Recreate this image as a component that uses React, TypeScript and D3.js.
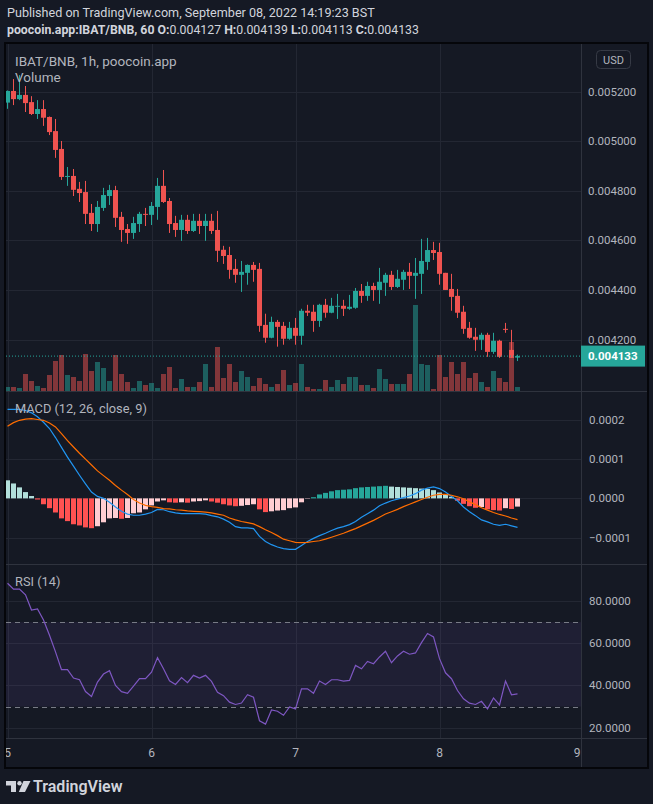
import React from 'react';
import * as d3 from 'd3';

// prices are in 1e-6 BNB (0.004133 -> 4133), one candle per hour from Sept 5 00:00
const openP = [5156, 5203, 5170, 5187, 5158, 5110, 5130, 5098, 5041, 4969, 4858, 4860, 4808, 4795, 4711, 4666, 4731, 4779, 4803, 4695, 4646, 4630, 4666, 4707, 4703, 4735, 4820, 4759, 4670, 4642, 4683, 4638, 4679, 4658, 4679, 4642, 4562, 4541, 4485, 4461, 4469, 4501, 4485, 4259, 4207, 4271, 4255, 4203, 4247, 4215, 4316, 4312, 4275, 4340, 4308, 4332, 4336, 4324, 4328, 4396, 4376, 4416, 4400, 4429, 4461, 4412, 4441, 4473, 4457, 4465, 4513, 4561, 4553, 4469, 4404, 4376, 4312, 4247, 4211, 4199, 4219, 4150, 4195, 4243, 4158, 4127];
const highP = [5205, 5251, 5267, 5223, 5182, 5166, 5166, 5100, 5090, 5001, 4896, 4888, 4836, 4840, 4747, 4759, 4812, 4824, 4820, 4715, 4666, 4695, 4715, 4731, 4755, 4852, 4884, 4771, 4699, 4703, 4703, 4707, 4707, 4707, 4707, 4719, 4578, 4574, 4525, 4517, 4503, 4513, 4509, 4304, 4292, 4279, 4271, 4271, 4287, 4324, 4340, 4340, 4344, 4364, 4368, 4384, 4360, 4380, 4408, 4424, 4433, 4429, 4489, 4469, 4477, 4481, 4481, 4509, 4529, 4606, 4610, 4594, 4590, 4469, 4465, 4404, 4336, 4271, 4247, 4227, 4227, 4227, 4199, 4267, 4239, 4139];
const lowP = [5131, 5146, 5166, 5118, 5106, 5090, 5062, 5025, 4933, 4844, 4820, 4779, 4755, 4666, 4638, 4634, 4719, 4743, 4654, 4594, 4586, 4606, 4634, 4658, 4662, 4683, 4751, 4630, 4614, 4598, 4626, 4634, 4626, 4598, 4626, 4513, 4505, 4445, 4429, 4392, 4421, 4433, 4231, 4187, 4205, 4171, 4179, 4199, 4179, 4179, 4295, 4231, 4251, 4288, 4306, 4283, 4295, 4320, 4324, 4348, 4356, 4356, 4344, 4376, 4400, 4408, 4400, 4404, 4364, 4384, 4481, 4521, 4421, 4400, 4316, 4287, 4223, 4203, 4154, 4158, 4130, 4142, 4126, 4227, 4126, 4113];
const closeP = [5203, 5170, 5187, 5154, 5110, 5130, 5095, 5037, 4965, 4856, 4860, 4804, 4791, 4707, 4666, 4735, 4783, 4803, 4691, 4642, 4630, 4670, 4707, 4704, 4739, 4820, 4755, 4666, 4642, 4683, 4638, 4679, 4658, 4679, 4638, 4558, 4537, 4481, 4461, 4473, 4501, 4481, 4255, 4207, 4271, 4251, 4203, 4247, 4215, 4316, 4308, 4275, 4340, 4308, 4336, 4336, 4324, 4332, 4396, 4376, 4416, 4400, 4433, 4461, 4412, 4445, 4473, 4457, 4469, 4517, 4561, 4549, 4465, 4400, 4372, 4308, 4243, 4207, 4199, 4219, 4150, 4195, 4130, 4239, 4126, 4133];
const volume = [12, 12, 9, 51, 30, 15, 9, 48, 90, 108, 48, 42, 30, 111, 60, 87, 69, 30, 108, 51, 27, 9, 30, 18, 24, 9, 51, 72, 9, 36, 12, 12, 27, 81, 12, 132, 39, 81, 27, 60, 42, 15, 39, 21, 12, 21, 63, 18, 24, 81, 12, 6, 6, 33, 12, 33, 21, 42, 42, 18, 18, 9, 66, 36, 21, 21, 21, 51, 258, 81, 78, 6, 108, 42, 87, 51, 87, 39, 54, 27, 12, 60, 39, 27, 147, 12];

// MACD (12, 26, close, 9) in 1e-6
const macdLine = [227, 227, 227, 224, 218, 208, 194, 178, 155, 130, 105, 82, 59, 37, 16, 5, 0, -10, -22, -33, -40, -43, -43, -40, -36, -28, -29, -34, -37, -39, -39, -39, -39, -40, -44, -47, -53, -61, -72, -75, -75, -77, -97, -110, -118, -124, -128, -130, -130, -120, -110, -102, -95, -89, -82, -76, -72, -67, -59, -48, -39, -30, -19, -12, -6, -2, 2, 6, 12, 21, 26, 29, 25, 16, 5, -6, -22, -34, -44, -55, -60, -66, -69, -66, -70, -74];
const signalLine = [184, 193, 199, 202, 203, 201, 199, 192, 182, 165, 147, 131, 115, 100, 85, 70, 58, 46, 33, 21, 10, -3, -12, -18, -21, -23, -26, -27, -29, -30, -32, -33, -34, -35, -37, -40, -43, -50, -55, -59, -62, -65, -72, -80, -87, -95, -104, -108, -112, -113, -112, -110, -108, -104, -99, -94, -89, -83, -77, -70, -63, -56, -48, -40, -34, -28, -21, -15, -9, -3, 3, 8, 10, 10, 8, 4, -1, -9, -16, -24, -30, -36, -41, -45, -50, -54];
const histogram = [46, 38, 28, 16, 6, -3, -15, -25, -36, -51, -58, -66, -69, -74, -76, -71, -61, -51, -50, -52, -50, -38, -36, -28, -18, -8, -5, -10, -11, -10, -11, -8, -7, -5, -8, -11, -15, -18, -20, -19, -17, -15, -28, -35, -33, -31, -30, -25, -23, -10, -1, 3, 10, 14, 18, 21, 22, 23, 26, 28, 29, 30, 31, 32, 30, 29, 28, 27, 26, 25, 24, 21, 15, 9, 4, -6, -14, -20, -24, -22, -28, -30, -31, -25, -27, -21];

// RSI (14)
const rsi = [88.4, 85.6, 85.6, 82.9, 75.7, 76.2, 71, 63.8, 55.9, 47.5, 47.5, 43.5, 42.7, 37.1, 34.8, 41.6, 45.4, 47, 40, 37.1, 36.3, 39.7, 43.2, 43.2, 46.3, 53.2, 47.9, 42.2, 40.5, 43.7, 41.3, 44.8, 43.5, 44.8, 41.9, 36.8, 35.2, 32.1, 31, 31.7, 35.6, 34.4, 23.3, 21.7, 28.4, 27.8, 25.9, 29.8, 28.9, 38.4, 38.4, 36.3, 42.1, 40.5, 42.7, 42.7, 42.1, 42.4, 49.5, 47.9, 51.4, 50.3, 53.5, 56.2, 50.8, 54, 56.2, 54.8, 55.4, 60.3, 64.6, 63, 52.7, 46, 43.2, 37.6, 33.7, 31.6, 31, 32.5, 28.9, 34.1, 30.8, 42.1, 35.6, 36];

const priceTicks = [5200, 5000, 4800, 4600, 4400, 4200];
const macdTicks = [200, 100, 0, -100];
const rsiTicks = [80, 60, 40, 20];
const rsiBand = [70, 30];
const dayTicks = [5, 6, 7, 8, 9];
const lastPrice = 4133;

const UP = '#26a69a';
const DOWN = '#ef5350';
const GRID = '#232733';
const SEP = '#2f333e';
const AXIS_TXT = '#b2b5be';
const FONT = "Roboto, 'Noto Sans', sans-serif";

const L = 6, R = 581;

export default function App() {
  const x = d3.scaleLinear().domain([0, 96]).range([7.5, 583.5]);
  const yP = d3.scaleLinear().domain([4200, 5200]).range([339.5, 91.7]);
  const yV = d3.scaleLinear().domain([0, d3.max(volume) as number]).range([391, 305]);
  const yM = d3.scaleLinear().domain([-100, 200]).range([537.6, 419.9]);
  const yR = d3.scaleLinear().domain([20, 80]).range([727.7, 601]);

  const idx = closeP.map((_, i) => i);
  const macdPath = d3.line<number>().x((_, i) => x(i)).y(d => yM(d))(macdLine) || '';
  const sigPath = d3.line<number>().x((_, i) => x(i)).y(d => yM(d))(signalLine) || '';
  const rsiPath = d3.line<number>().x((_, i) => x(i)).y(d => yR(d))(rsi) || '';

  const histColor = (i: number) => {
    const h = histogram[i];
    const prev = i > 0 ? histogram[i - 1] : Infinity;
    if (h >= 0) return prev < h ? '#26a69a' : '#b2dfdb';
    return prev < h ? '#ffcdd2' : '#ff5252';
  };

  const dayX = (d: number) => x((d - 5) * 24);

  return (
    <svg width={653} height={804} style={{ position: 'absolute', left: 0, top: 0, background: '#151924' }} fontFamily={FONT}>
      <defs>
        <clipPath id="plot"><rect x={L} y={44} width={R - L} height={694} /></clipPath>
        <clipPath id="timeaxis"><rect x={L} y={738} width={R - L} height={29} /></clipPath>
      </defs>
      <rect width={653} height={804} fill="#151924" />

      {/* header */}
      <text x={7} y={17} fontSize={12.6} fill="#d1d4dc">Published on TradingView.com, September 08, 2022 14:19:23 BST</text>
      <text x={7} y={34} fontSize={12.3} fill="#d1d4dc">
        <tspan fontWeight={700}>poocoin.app:IBAT/BNB, 60 </tspan>
        <tspan fontWeight={700}>O:</tspan><tspan>0.004127 </tspan>
        <tspan fontWeight={700}>H:</tspan><tspan>0.004139 </tspan>
        <tspan fontWeight={700}>L:</tspan><tspan>0.004113 </tspan>
        <tspan fontWeight={700}>C:</tspan><tspan>0.004133</tspan>
      </text>

      <g clipPath="url(#plot)">
        {/* vertical grid */}
        {dayTicks.map(d => (
          <line key={'vg' + d} x1={Math.round(dayX(d)) + 0.5} x2={Math.round(dayX(d)) + 0.5} y1={44} y2={738} stroke={GRID} />
        ))}
        {priceTicks.map(t => (
          <line key={'pg' + t} x1={L} x2={R} y1={Math.round(yP(t)) + 0.5} y2={Math.round(yP(t)) + 0.5} stroke={GRID} />
        ))}
        {macdTicks.map(t => (
          <line key={'mg' + t} x1={L} x2={R} y1={Math.round(yM(t)) + 0.5} y2={Math.round(yM(t)) + 0.5} stroke={GRID} />
        ))}
        {rsiTicks.map(t => (
          <line key={'rg' + t} x1={L} x2={R} y1={Math.round(yR(t)) + 0.5} y2={Math.round(yR(t)) + 0.5} stroke={GRID} />
        ))}

        {/* volume */}
        {idx.map(i => (
          <rect key={'v' + i} x={x(i) - 2.5} y={yV(volume[i])} width={5} height={yV(0) - yV(volume[i])}
            fill={closeP[i] >= openP[i] ? UP : DOWN} opacity={0.5} />
        ))}

        {/* candles */}
        {idx.map(i => {
          const up = closeP[i] >= openP[i];
          const c = up ? UP : DOWN;
          const top = yP(Math.max(openP[i], closeP[i]));
          const bot = yP(Math.min(openP[i], closeP[i]));
          return (
            <g key={'c' + i}>
              <line x1={x(i)} x2={x(i)} y1={yP(highP[i])} y2={yP(lowP[i])} stroke={c} strokeWidth={1} />
              <rect x={x(i) - 2.5} y={top} width={5} height={Math.max(1, bot - top)} fill={c} />
            </g>
          );
        })}

        {/* last price line */}
        <line x1={L} x2={R} y1={yP(lastPrice)} y2={yP(lastPrice)} stroke={UP} strokeWidth={1} strokeDasharray="1 2" />

        {/* MACD */}
        {idx.map(i => (
          <rect key={'h' + i} x={x(i) - 2.5} y={Math.min(yM(0), yM(histogram[i]))} width={5}
            height={Math.abs(yM(histogram[i]) - yM(0))} fill={histColor(i)} />
        ))}
        <path d={macdPath} fill="none" stroke="#2196f3" strokeWidth={1.2} />
        <path d={sigPath} fill="none" stroke="#ff6d00" strokeWidth={1.2} />

        {/* RSI */}
        <rect x={L} y={yR(rsiBand[0])} width={R - L} height={yR(rsiBand[1]) - yR(rsiBand[0])} fill="#7e57c2" opacity={0.1} />
        {rsiBand.map(t => (
          <line key={'rb' + t} x1={L} x2={R} y1={Math.round(yR(t)) + 0.5} y2={Math.round(yR(t)) + 0.5} stroke="#787b86" strokeDasharray="5 4" />
        ))}
        <path d={rsiPath} fill="none" stroke="#7e57c2" strokeWidth={1.2} />
      </g>

      {/* pane separators */}
      <line x1={L} x2={647} y1={391.5} y2={391.5} stroke={SEP} />
      <line x1={L} x2={647} y1={564.5} y2={564.5} stroke={SEP} />
      <line x1={L} x2={647} y1={738.5} y2={738.5} stroke={SEP} />
      <line x1={R + 0.5} x2={R + 0.5} y1={44} y2={767} stroke={SEP} />

      {/* pane titles */}
      <text x={15} y={65.5} fontSize={13.5} fill="#b2b5be">IBAT/BNB, 1h, poocoin.app</text>
      <text x={15} y={82} fontSize={13.5} fill="#b2b5be">Volume</text>
      <text x={15} y={412.5} fontSize={12.8} fill="#b2b5be">MACD (12, 26, close, 9)</text>
      <text x={15} y={586} fontSize={12.8} fill="#b2b5be">RSI (14)</text>

      {/* right axis */}
      <rect x={596.5} y={50.5} width={34} height={18} rx={4} fill="none" stroke="#363a45" />
      <text x={613.5} y={63.5} fontSize={11} fill={AXIS_TXT} textAnchor="middle">USD</text>
      {priceTicks.map(t => (
        <text key={'pt' + t} x={588} y={yP(t)} dy="0.35em" fontSize={11.5} fill={AXIS_TXT}>{(t / 1e6).toFixed(6)}</text>
      ))}
      <rect x={581} y={yP(lastPrice) - 10.5} width={64} height={21} fill={UP} />
      <text x={588} y={yP(lastPrice)} dy="0.35em" fontSize={11.5} fontWeight={700} fill="#ffffff">{(lastPrice / 1e6).toFixed(6)}</text>
      {macdTicks.map(t => (
        <text key={'mt' + t} x={589} y={yM(t)} dy="0.35em" fontSize={11.5} fill={AXIS_TXT}>{t < 0 ? '\u2212' : ''}{Math.abs(t / 1e6).toFixed(4)}</text>
      ))}
      {rsiTicks.map(t => (
        <text key={'rt' + t} x={589} y={yR(t)} dy="0.35em" fontSize={11.5} fill={AXIS_TXT}>{t.toFixed(4)}</text>
      ))}

      {/* time axis */}
      <g clipPath="url(#timeaxis)">
        {dayTicks.map(d => (
          <text key={'dt' + d} x={Math.min(dayX(d), 577)} y={757} fontSize={12} fill={AXIS_TXT} textAnchor="middle">{d}</text>
        ))}
      </g>

      {/* frame */}
      <rect x={5} y={43} width={643} height={725} fill="none" stroke="#05060a" strokeWidth={2} />

      {/* logo */}
      <g fill="#d1d4dc">
        <path d="M6,781 h10 v11 h-5 v-6.5 h-5 z" />
        <circle cx={19.5} cy={783.2} r={2.2} />
        <path d="M23.5,781 h7 l-5.5,11 h-6.2 z" />
      </g>
      <text x={33} y={792} fontSize={16} fontWeight={600} fill="#d1d4dc">TradingView</text>
    </svg>
  );
}
